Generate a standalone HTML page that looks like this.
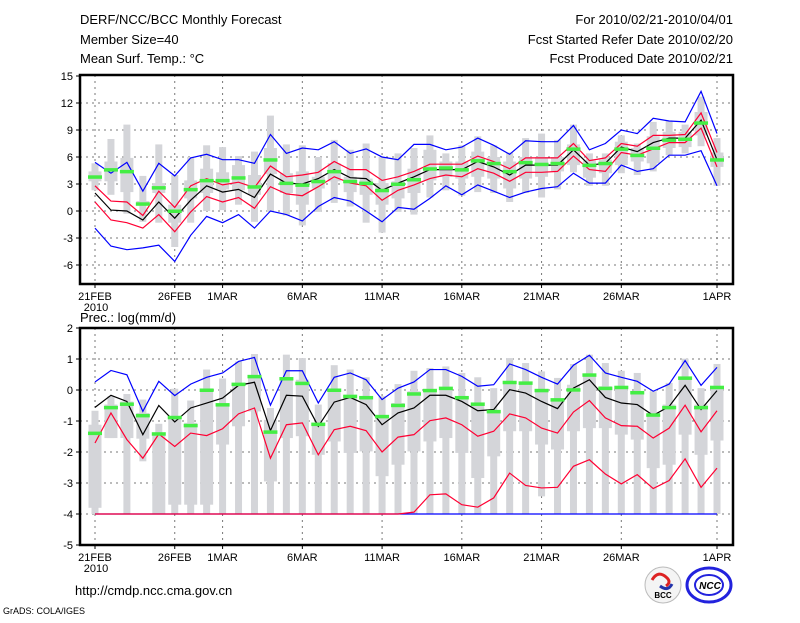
<!DOCTYPE html>
<html><head><meta charset="utf-8"><style>
body{margin:0;background:#fff;width:800px;height:618px;overflow:hidden}
svg text{font-family:"Liberation Sans",sans-serif;fill:#000}
</style></head><body>
<svg id="c" width="800" height="618" viewBox="0 0 800 618">
<text x="80" y="24" font-size="13">DERF/NCC/BCC Monthly Forecast</text>
<text x="80" y="44" font-size="13">Member Size=40</text>
<text x="80" y="63" font-size="13">Mean Surf. Temp.: °C</text>
<text x="733" y="24" font-size="13" text-anchor="end">For 2010/02/21-2010/04/01</text>
<text x="733" y="44" font-size="13" text-anchor="end">Fcst Started Refer Date 2010/02/20</text>
<text x="733" y="63" font-size="13" text-anchor="end">Fcst Produced Date 2010/02/21</text>
<text x="80" y="322" font-size="13">Prec.: log(mm/d)</text>
<text x="75" y="595" font-size="13">http://cmdp.ncc.cma.gov.cn</text>
<text x="3" y="614" font-size="9">GrADS: COLA/IGES</text>
<g><circle cx="663" cy="585" r="18" fill="#f4f4f4" stroke="#bbb"/><path d="M652 580 q6 -10 14 -3 q6 5 0 9" stroke="#d22" stroke-width="3" fill="none"/><path d="M660 586 q8 6 12 -2" stroke="#23a" stroke-width="3" fill="none"/><text x="663" y="598" font-size="8" text-anchor="middle" font-weight="bold" fill="#222">BCC</text></g>
<g><ellipse cx="709" cy="585" rx="22" ry="17" fill="none" stroke="#22d" stroke-width="3"/><ellipse cx="709" cy="585" rx="14" ry="10" fill="none" stroke="#22d" stroke-width="2"/><text x="710" y="589" font-size="10" text-anchor="middle" font-weight="bold" font-style="italic" fill="#22d">NCC</text></g>
</svg>
<script>
const dayLabels=["21FEB","26FEB","1MAR","6MAR","11MAR","16MAR","21MAR","26MAR","1APR"];
const dayLabelIdx=[0,5,8,13,18,23,28,33,39];
const tTicks=[15,12,9,6,3,0,-3,-6];
const pTicks=[2,1,0,-1,-2,-3,-4,-5];
// temperature
const tBlueMax=[5.4,4.2,5.4,2.2,5.3,3.9,5.9,6.3,5.7,5.7,5.3,8.5,6.4,7.0,6.8,7.7,6.4,6.9,6.0,5.7,7.4,7.4,6.8,7.1,8.1,7.3,6.3,7.8,7.7,7.7,9.5,6.8,7.5,9.0,8.6,10.3,10.0,9.9,13.3,8.6];
const tRedUp=[2.8,1.1,1.0,-0.5,2.2,0.4,2.8,3.6,2.9,3.2,2.6,5.0,3.8,4.0,4.3,5.5,4.6,4.6,3.4,3.8,4.4,5.2,5.2,5.2,6.1,5.5,4.7,5.9,5.9,5.9,7.5,5.6,5.9,7.5,7.2,8.4,8.4,8.5,10.9,6.5];
const tMean=[2.0,0.1,0.0,-1.0,1.0,-0.8,1.2,2.8,2.1,2.4,1.5,4.1,3.1,3.0,3.6,4.6,3.7,3.6,2.3,3.1,3.8,4.6,4.6,4.6,5.5,4.9,4.0,5.1,5.1,5.1,6.8,5.1,5.3,7.1,6.6,7.6,8.1,8.1,10.1,5.7];
const tRedLo=[1.0,-1.0,-1.3,-1.9,-0.4,-2.3,-0.1,1.6,1.0,1.5,0.3,2.7,1.9,1.7,2.7,3.8,3.1,2.8,1.2,2.3,2.9,3.6,4.0,3.8,4.7,4.2,3.3,4.3,4.3,4.4,6.1,4.6,4.4,6.5,6.2,6.9,7.6,7.6,9.2,4.9];
const tBlueMin=[-1.9,-3.9,-4.3,-4.1,-3.8,-5.6,-2.7,-0.6,-1.3,-0.4,-1.9,0.0,-0.4,-1.1,0.5,1.5,1.1,0.0,-1.2,0.4,0.2,1.4,2.8,1.8,2.9,2.2,1.5,2.1,2.5,2.7,4.2,3.1,3.1,5.1,4.4,4.7,6.2,6.2,6.7,2.8];
const tWhiskHi=[5.3,8.0,9.6,3.9,7.4,4.0,6.0,7.3,7.1,6.1,6.6,10.6,7.4,7.3,6.0,7.9,6.8,7.5,6.0,6.4,7.0,8.4,6.4,7.3,8.3,7.3,6.5,8.1,8.6,7.9,9.6,6.4,6.4,8.4,7.5,9.9,10.0,9.6,12.7,8.1];
const tWhiskLo=[2.3,1.8,-0.3,-1.2,-1.3,-4.0,-1.3,0.0,0.1,0.7,-1.2,-0.1,-0.5,-1.6,-0.1,0.9,0.5,-1.3,-2.4,-0.1,-0.4,1.5,2.3,1.7,2.1,2.0,1.0,2.0,1.5,2.4,4.3,2.8,2.8,4.2,4.0,4.4,6.2,6.4,7.2,2.8];
const tBoxHi=[4.4,5.5,5.9,1.1,3.1,0.7,3.4,4.7,4.3,5.1,4.0,7.0,4.2,4.4,3.8,5.3,3.8,3.6,3.1,3.3,4.7,6.8,5.5,5.5,6.6,6.0,5.5,6.0,6.0,6.0,7.4,5.6,5.7,7.7,7.0,8.3,8.8,8.8,11.0,6.5];
const tBoxLo=[3.3,3.3,2.1,0.7,2.0,-1.3,1.4,2.0,2.4,2.3,1.8,4.1,2.0,0.7,2.5,3.3,2.1,1.8,0.7,1.4,2.0,3.4,3.8,3.6,3.8,3.6,2.5,3.6,3.8,4.4,5.1,3.7,4.2,5.1,5.5,5.3,7.0,7.1,8.4,4.9];
const tObs=[3.8,4.6,4.4,0.8,2.6,0.0,2.4,3.4,3.4,3.7,2.7,5.7,3.1,2.9,3.3,4.4,3.3,3.1,2.3,3.0,3.5,4.7,4.8,4.6,5.6,5.3,4.4,5.4,5.2,5.3,6.9,5.1,5.3,6.9,6.2,7.0,7.9,8.0,9.8,5.7];
// precipitation
const pBlueMax=[0.26,0.63,0.49,-0.69,0.28,-0.18,0.19,0.41,0.55,0.92,1.05,-0.49,0.62,0.62,-0.42,0.41,0.55,0.33,-0.31,0.06,0.26,0.66,0.66,0.44,0.12,0.17,0.84,0.66,0.41,0.19,0.8,1.12,0.55,0.41,0.28,-0.04,0.19,0.95,0.15,0.73];
const pMean=[-0.56,-0.17,-0.37,-1.44,-0.5,-1.03,-0.58,-0.42,-0.26,0.15,0.25,-1.31,-0.17,-0.2,-1.17,-0.39,-0.24,-0.47,-1.12,-0.74,-0.58,-0.17,-0.17,-0.37,-0.67,-0.63,0.01,-0.1,-0.37,-0.6,0.06,0.33,-0.24,-0.42,-0.47,-0.82,-0.53,0.15,-0.63,-0.02];
const pRedUp=[-1.71,-0.74,-1.6,-2.2,-1.42,-1.82,-1.39,-1.47,-1.25,-0.77,-0.58,-2.2,-1.12,-1.06,-2.09,-1.28,-1.17,-1.31,-2.0,-1.52,-1.44,-0.99,-0.9,-1.12,-1.49,-1.33,-0.77,-0.9,-1.23,-1.39,-0.71,-0.34,-0.9,-1.15,-1.17,-1.55,-1.23,-0.49,-1.35,-0.67];
const pRedLo=[-4,-4,-4,-4,-4,-4,-4,-4,-4,-4,-4,-4,-4,-4,-4,-4,-4,-4,-4,-4,-3.94,-3.38,-3.35,-3.7,-3.78,-3.48,-2.68,-3.08,-3.16,-3.14,-2.46,-2.25,-2.71,-3.03,-2.73,-3.18,-2.92,-2.22,-3.14,-2.52];
const pBlueMin=[-4,-4,-4,-4,-4,-4,-4,-4,-4,-4,-4,-4,-4,-4,-4,-4,-4,-4,-4,-4,-4,-4,-4,-4,-4,-4,-4,-4,-4,-4,-4,-4,-4,-4,-4,-4,-4,-4,-4,-4];
const pWhiskHi=[-0.67,-0.2,-0.13,-0.31,-1.09,0.04,-0.34,0.66,0.37,0.92,1.16,-0.58,1.14,1.03,-0.47,0.8,0.66,0.41,-0.2,0.19,0.62,0.71,0.76,0.55,0.41,0.06,1.03,0.87,0.6,0.39,0.84,1.14,0.87,0.62,0.55,-0.04,0.23,1.01,0.06,0.84];
const pWhiskLo=[-4,-1.55,-4,-2.3,-4,-4,-4,-4,-4,-4,-4,-4,-4,-4,-4,-4,-4,-4,-4,-4,-4,-4,-4,-4,-4,-4,-4,-4,-3.43,-4,-4,-4,-4,-4,-4,-4,-4,-4,-4,-4];
const pBoxHi=[-1.12,-0.47,-0.37,-0.74,-1.39,-0.9,-1.06,0.01,-0.47,0.17,0.44,-0.96,0.39,0.33,-1.06,0.01,-0.15,-0.26,-0.85,-0.42,-0.04,0.01,0.06,-0.2,-0.47,-0.69,0.28,0.23,0.01,-0.31,0.17,0.49,0.12,0.09,-0.1,-0.74,-0.47,0.39,-0.47,0.12];
const pBoxLo=[-3.8,-1.55,-1.55,-1.57,-4,-3.7,-3.7,-3.7,-1.76,-1.17,-0.69,-2.95,-1.55,-1.49,-2.09,-1.66,-2.03,-1.98,-2.78,-2.41,-1.98,-1.66,-1.55,-2.03,-2.84,-2.14,-1.33,-1.33,-1.76,-1.92,-1.33,-1.23,-1.23,-1.44,-1.6,-2.52,-2.41,-1.44,-2.09,-1.63];
const pObs=[-1.39,-0.56,-0.45,-0.82,-1.41,-0.88,-1.14,0.0,-0.47,0.19,0.44,-1.35,0.37,0.22,-1.1,0.0,-0.2,-0.24,-0.85,-0.49,-0.12,-0.01,0.06,-0.24,-0.45,-0.69,0.25,0.23,-0.01,-0.31,0.01,0.49,0.06,0.09,-0.08,-0.8,-0.56,0.39,-0.56,0.09];

const NS="http://www.w3.org/2000/svg";
const svg=document.getElementById('c');
const X0=80,X1=733;
function xs(i){return 95+i*(717-95)/39;}
function mk(tag,attrs,parent){const e=document.createElementNS(NS,tag);for(const k in attrs)e.setAttribute(k,attrs[k]);(parent||svg).appendChild(e);return e;}

function panel(name,top,bottom,ys,ticks,d){
  const g=mk('g',{});
  
  
  // grid
  ticks.forEach(t=>{const y=ys(t);if(y>top+1&&y<bottom-1){const l=mk('line',{x1:X0,x2:X1,y1:y,y2:y,stroke:'#777','stroke-dasharray':'2,4'},g);
    
    }});
  dayLabelIdx.forEach(i=>{const l=mk('line',{x1:xs(i),x2:xs(i),y1:top,y2:bottom,stroke:'#777','stroke-dasharray':'2,4'},g);
    
    });
  // bars
  for(let i=0;i<d.obs.length;i++){const x=xs(i);
    const w=mk('rect',{x:x-3.5,width:7,y:ys(d.wh[i]),height:Math.max(1,ys(d.wl[i])-ys(d.wh[i])),fill:'#d4d5d9'},g);
    
    
    const b=mk('rect',{x:x-6.5,width:13,y:ys(d.bh[i]),height:Math.max(1,ys(d.bl[i])-ys(d.bh[i])),fill:'#d4d5d9'},g);
    
    }
  const line=(arr,col,nm)=>{const p=mk('polyline',{points:arr.map((v,i)=>xs(i)+','+ys(v)).join(' '),fill:'none',stroke:col,'stroke-width':1.2},g);
    
    };
  line(d.bmin,'#0000ff','ensemble-min-line');
  line(d.rlo,'#ff0033','lower-range-line');
  line(d.bmax,'#0000ff','ensemble-max-line');
  line(d.rup,'#ff0033','upper-range-line');
  line(d.mean,'#000','ensemble-mean-line');
  for(let i=0;i<d.obs.length;i++){const r=mk('rect',{x:xs(i)-7,width:14,y:ys(d.obs[i])-1.5,height:3.5,fill:'#44ee44'},g);
    
    }
  // frame
  const f=mk('rect',{x:X0,y:top,width:X1-X0,height:bottom-top,fill:'none',stroke:'#000','stroke-width':2.5},g);
  
  
  ticks.forEach(t=>{const y=ys(t);mk('line',{x1:76,x2:X0,y1:y,y2:y,stroke:'#000'},g);
    const tx=mk('text',{x:73,y:y+4,'font-size':11,'text-anchor':'end'},g);tx.textContent=t;
    
    });
  dayLabelIdx.forEach((i,k)=>{mk('line',{x1:xs(i),x2:xs(i),y1:bottom,y2:bottom+4,stroke:'#000'},g);
    const tx=mk('text',{x:xs(i),y:bottom+16,'font-size':11,'text-anchor':'middle'},g);tx.textContent=dayLabels[k];
    
    });
  const yr=mk('text',{x:96,y:bottom+27,'font-size':11,'text-anchor':'middle'},g);yr.textContent='2010';
  
  
}
panel('temperature-panel',75,284,v=>211-9*v,tTicks,{bmax:tBlueMax,rup:tRedUp,mean:tMean,rlo:tRedLo,bmin:tBlueMin,wh:tWhiskHi,wl:tWhiskLo,bh:tBoxHi,bl:tBoxLo,obs:tObs});
panel('precipitation-panel',328,545,v=>390-31*v,pTicks,{bmax:pBlueMax,rup:pRedUp,mean:pMean,rlo:pRedLo,bmin:pBlueMin,wh:pWhiskHi,wl:pWhiskLo,bh:pBoxHi,bl:pBoxLo,obs:pObs});
</script>
</body></html>
